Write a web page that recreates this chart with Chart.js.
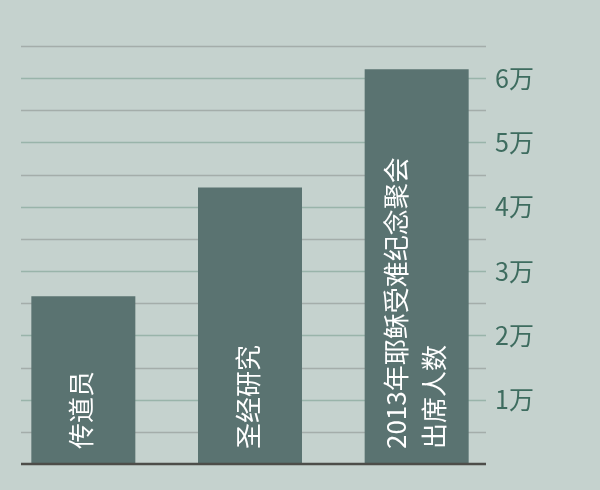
<!DOCTYPE html>
<html>
<head>
<meta charset="utf-8">
<script src="https://cdn.jsdelivr.net/npm/chart.js@4/dist/chart.umd.min.js"></script>
<style>
  html, body { margin: 0; padding: 0; background: #c5d2ce; }
  #box { width: 600px; height: 490px; }
</style>
</head>
<body>
<div id="box"><canvas id="grafico" width="600" height="490"></canvas></div>
<script>
// dados
const categorias = [['传道员'], ['圣经研究'], ['2013年耶稣受难纪念聚会', '出席人数']];
const valores = [26100, 43000, 61400];
const eixoMax = 65000;
const passo = 5000;

const corFundo = '#c5d2ce';
const corBarra = '#5a7371';
const corTexto = '#3e6c5f';

// linhas de grade desenhadas a partir da escala y
const grade = {
  id: 'grade',
  beforeDatasetsDraw(chart) {
    const { ctx, scales: { y } } = chart;
    ctx.save();
    y.ticks.forEach((t) => {
      if (t.value <= 0) return;
      const py = Math.round(y.getPixelForValue(t.value)) + 0.5;
      ctx.beginPath();
      ctx.moveTo(21, py);
      ctx.lineTo(486, py);
      ctx.strokeStyle = t.value % 10000 === 0 ? '#99b4aa' : '#a4adaa';
      ctx.lineWidth = 1.5;
      ctx.stroke();
    });
    ctx.restore();
  },
  afterDatasetsDraw(chart) {
    const { ctx, scales: { y } } = chart;
    const py = y.getPixelForValue(0);
    ctx.save();
    ctx.beginPath();
    ctx.moveTo(21, py);
    ctx.lineTo(486, py);
    ctx.strokeStyle = '#4d4d49';
    ctx.lineWidth = 2.5;
    ctx.stroke();
    ctx.restore();
  }
};

// rotulos verticais dentro das barras
const rotulos = {
  id: 'rotulos',
  afterDatasetsDraw(chart) {
    const { ctx } = chart;
    const barras = chart.getDatasetMeta(0).data;
    ctx.save();
    ctx.fillStyle = '#ffffff';
    ctx.font = '26px "Liberation Sans Narrow", "Noto Sans CJK SC", sans-serif';
    ctx.textAlign = 'left';
    ctx.textBaseline = 'middle';
    barras.forEach((bar, i) => {
      const linhas = categorias[i];
      const alt = 38;
      linhas.forEach((txt, j) => {
        const off = (j - (linhas.length - 1) / 2) * alt - 2;
        ctx.save();
        ctx.translate(bar.x + off, bar.base - 15);
        ctx.rotate(-Math.PI / 2);
        ctx.fillText(txt, 0, 0);
        ctx.restore();
      });
    });
    ctx.restore();
  }
};

new Chart(document.getElementById('grafico'), {
  type: 'bar',
  data: {
    labels: categorias.map((c) => c.join('')),
    datasets: [{
      data: valores,
      backgroundColor: corBarra,
      borderWidth: 0,
      barPercentage: 0.624,
      categoryPercentage: 1
    }]
  },
  options: {
    responsive: false,
    animation: false,
    layout: { padding: { left: 0, right: 0, top: 46, bottom: 26 } },
    plugins: {
      legend: { display: false },
      tooltip: { enabled: false }
    },
    scales: {
      x: { display: false },
      y: {
        position: 'right',
        min: 0,
        max: eixoMax,
        border: { display: false },
        grid: { display: false, drawTicks: false },
        afterFit(scale) {
          scale.width = 100;
          scale._computeLabelArea = () => null; // nao cortar os rotulos
        },
        ticks: {
          stepSize: passo,
          autoSkip: false,
          maxTicksLimit: 20,
          padding: -5,
          color: corTexto,
          font: { size: 25, family: '"Liberation Sans Narrow", "Noto Sans CJK SC", sans-serif' },
          callback: (v) => (v > 0 && v % 10000 === 0 ? (v / 10000) + '万' : '')
        }
      }
    }
  },
  plugins: [grade, rotulos]
});
</script>
</body>
</html>
